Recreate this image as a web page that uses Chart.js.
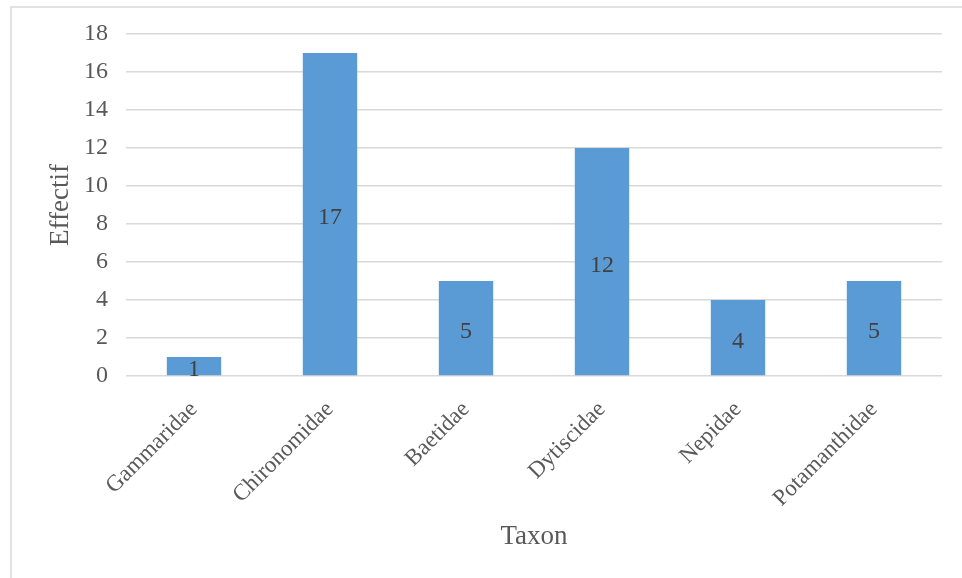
<!DOCTYPE html>
<html>
<head>
<meta charset="utf-8">
<script src="https://cdn.jsdelivr.net/npm/chart.js@4/dist/chart.umd.min.js"></script>
<style>
  html, body { margin: 0; padding: 0; background: #fff; overflow: hidden; }
  #wrap { position: relative; width: 962px; height: 578px; }
</style>
</head>
<body>
<div id="wrap"><canvas id="myChart" width="962" height="578"></canvas></div>
<script>
var taxa = ["Gammaridae", "Chironomidae", "Baetidae", "Dytiscidae", "Nepidae", "Potamanthidae"];
var effectifs = [1, 17, 5, 12, 4, 5];
var yTicks = [0, 2, 4, 6, 8, 10, 12, 14, 16, 18];

var serif = "'Liberation Serif', 'Times New Roman', serif";

// light frame round the chart, open on the right and bottom
var framePlugin = {
  id: 'frame',
  beforeDraw: function (chart) {
    var ctx = chart.ctx;
    ctx.save();
    ctx.strokeStyle = '#d9d9d9';
    ctx.lineWidth = 1.5;
    ctx.beginPath();
    ctx.moveTo(11, 578);
    ctx.lineTo(11, 7);
    ctx.lineTo(962, 7);
    ctx.stroke();
    ctx.restore();
  }
};

// value written in the middle of each bar
var barValues = {
  id: 'barValues',
  afterDatasetsDraw: function (chart) {
    var ctx = chart.ctx;
    var meta = chart.getDatasetMeta(0);
    ctx.save();
    ctx.font = '24px ' + serif;
    ctx.fillStyle = '#404040';
    ctx.textAlign = 'center';
    ctx.textBaseline = 'middle';
    meta.data.forEach(function (bar, i) {
      var v = chart.data.datasets[0].data[i];
      ctx.fillText(String(v), bar.x, (bar.y + bar.base) / 2 + 4);
    });
    ctx.restore();
  }
};

var myChart = new Chart(document.getElementById('myChart'), {
  type: 'bar',
  data: {
    labels: taxa,
    datasets: [{
      data: effectifs,
      backgroundColor: '#5b9bd5',
      borderWidth: 0,
      barPercentage: 0.4,
      categoryPercentage: 1
    }]
  },
  options: {
    responsive: false,
    animation: false,
    layout: { padding: { left: 0, top: 34, right: 20, bottom: 0 } },
    plugins: {
      legend: { display: false },
      tooltip: { enabled: false }
    },
    scales: {
      x: {
        grid: { display: false, drawTicks: false },
        border: { display: false },
        ticks: {
          minRotation: 45,
          maxRotation: 45,
          padding: 20,
          color: '#595959',
          font: { family: serif, size: 23 }
        },
        title: {
          display: true,
          text: 'Taxon',
          color: '#595959',
          font: { family: serif, size: 27 },
          padding: { top: 0, bottom: 25 }
        },
        afterFit: function (scale) { scale.height = 202; }
      },
      y: {
        min: 0,
        max: 18,
        afterBuildTicks: function (scale) {
          scale.ticks = yTicks.map(function (v) { return { value: v }; });
        },
        grid: { color: '#d9d9d9', lineWidth: 1.5, drawTicks: false },
        border: { display: false },
        ticks: {
          padding: 18,
          color: '#595959',
          font: { family: serif, size: 24 }
        },
        title: {
          display: true,
          text: 'Effectif',
          color: '#595959',
          font: { family: serif, size: 27 },
          padding: { top: 45, bottom: 0 }
        },
        afterFit: function (scale) { scale.width = 126; }
      }
    }
  },
  plugins: [framePlugin, barValues]
});
</script>
</body>
</html>
